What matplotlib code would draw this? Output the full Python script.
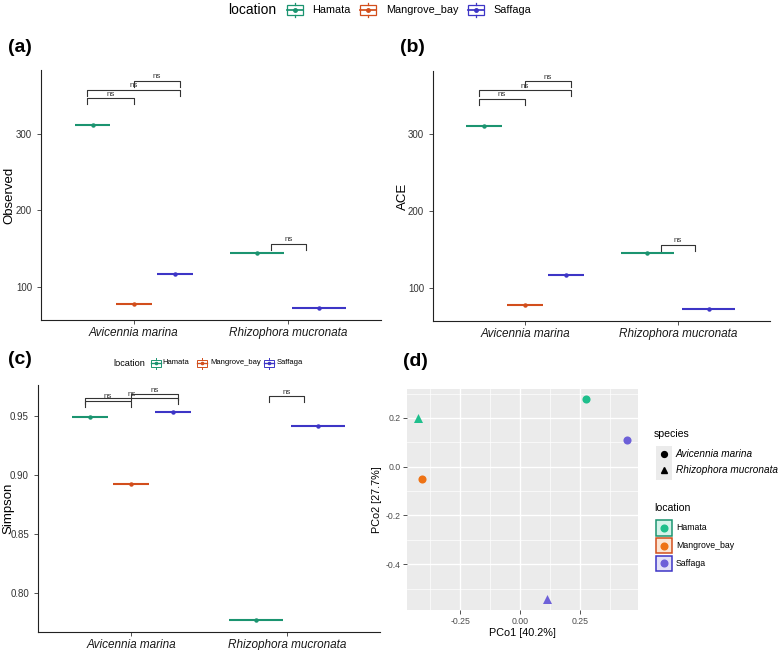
import numpy as np
import matplotlib
matplotlib.use("Agg")
import matplotlib.pyplot as plt
from matplotlib.patches import Rectangle
from matplotlib.ticker import FormatStrFormatter

plt.rcParams['font.family'] = ['Liberation Sans', 'DejaVu Sans']

# ---------------- data ----------------
species = ["Avicennia marina", "Rhizophora mucronata"]
locations = ["Hamata", "Mangrove_bay", "Saffaga"]

# alpha diversity per (species, location); nan = no sample
observed_am = [311, 78, 117]
observed_rm = [145, np.nan, 72]
ace_am = [311, 77.5, 116.5]
ace_rm = [144.5, np.nan, 71.5]
simpson_am = [0.9494, 0.8924, 0.9531]
simpson_rm = [0.7774, np.nan, 0.9418]

# significance brackets: (species index, location a, location b, label)
bracket_pairs = [(0, 0, 1, "ns"), (0, 0, 2, "ns"), (0, 1, 2, "ns"), (1, 0, 2, "ns")]
observed_bracket_y = [346, 357.5, 369, 156.5]
ace_bracket_y = [346, 357, 368.5, 156]
simpson_bracket_y = [0.9627, 0.9650, 0.9684, 0.9663]

# PCoA
pco_location = ["Hamata", "Mangrove_bay", "Saffaga", "Hamata", "Saffaga"]
pco_species = ["Avicennia marina", "Avicennia marina", "Avicennia marina",
               "Rhizophora mucronata", "Rhizophora mucronata"]
pco1 = [0.275, -0.409, 0.449, -0.426, 0.111]
pco2 = [0.279, -0.051, 0.110, 0.202, -0.544]

# ---------------- style ----------------
cb_colors = {"Hamata": "#1B9470", "Mangrove_bay": "#D24E1C", "Saffaga": "#3D35C6"}
pt_colors = {"Hamata": "#1FBF8C", "Mangrove_bay": "#EE7214", "Saffaga": "#6D60D8"}
markers = {"Avicennia marina": "o", "Rhizophora mucronata": "^"}

W, H = 779, 650
fig = plt.figure(figsize=(W / 100, H / 100), dpi=100)


def ax_rect(l, t, r, b):
    return [l / W, 1 - b / H, (r - l) / W, (b - t) / H]


def place_ylabel(ax, rect_px, xpx):
    l, t, r, b = rect_px
    ax.yaxis.set_label_coords((xpx - l) / (r - l), 0.5)


def crossbar_panel(ax, am, rm, bracket_y, depth, ylim, yticks, fmt, ylabel):
    per_species = [am, rm]
    for si, vals in enumerate(per_species):
        present = [li for li, v in enumerate(vals) if not np.isnan(v)]
        n = len(present)
        slot = 0.8 / n
        bw = slot * 0.87
        for k, li in enumerate(present):
            x = si + 1 + (k - (n - 1) / 2) * slot
            c = cb_colors[locations[li]]
            ax.plot([x - bw / 2, x + bw / 2], [vals[li], vals[li]], color=c, lw=1.5,
                    solid_capstyle='butt', zorder=3)
            ax.plot([x], [vals[li]], 'o', color=c, ms=2.2, zorder=4)
    # brackets
    for (si, a, b, lab), yb in zip(bracket_pairs, bracket_y):
        n = sum(1 for v in per_species[si] if not np.isnan(v))
        off = 0.3 if n == 3 else 0.225
        order = [li for li, v in enumerate(per_species[si]) if not np.isnan(v)]
        xa = si + 1 + (order.index(a) - (n - 1) / 2) * off
        xb = si + 1 + (order.index(b) - (n - 1) / 2) * off
        ax.plot([xa, xa, xb, xb], [yb - depth, yb, yb, yb - depth], color="#333333",
                lw=0.8, zorder=2)
        ax.annotate(lab, ((xa + xb) / 2, yb), xytext=(0, 0.3), textcoords='offset points',
                    ha='center', va='bottom', fontsize=5.8, color="#333333")
    ax.set_xlim(0.4, 2.6)
    ax.set_ylim(*ylim)
    ax.set_xticks([1, 2])
    ax.set_xticklabels(species, fontstyle='italic', fontsize=8.5, color="#1a1a1a")
    ax.set_yticks(yticks)
    ax.yaxis.set_major_formatter(FormatStrFormatter(fmt))
    ax.tick_params(axis='y', labelsize=7, colors="#333333", labelcolor="#333333", length=3, width=0.6)
    ax.tick_params(axis='x', length=3, width=0.6, colors="#333333", labelcolor="#1a1a1a", pad=2)
    for s in ["top", "right"]:
        ax.spines[s].set_visible(False)
    for s in ["left", "bottom"]:
        ax.spines[s].set_linewidth(0.8)
        ax.spines[s].set_color("#222222")
    ax.set_ylabel(ylabel, fontsize=9.5, va='center')


rect_a = (41, 70, 381, 320)
ax_a = fig.add_axes(ax_rect(*rect_a))
crossbar_panel(ax_a, observed_am, observed_rm, observed_bracket_y, 7.8,
               (57, 383), [100, 200, 300], '%d', "Observed")
place_ylabel(ax_a, rect_a, 9)

rect_b = (433, 71, 770, 321)
ax_b = fig.add_axes(ax_rect(*rect_b))
crossbar_panel(ax_b, ace_am, ace_rm, ace_bracket_y, 7.8,
               (56.5, 382), [100, 200, 300], '%d', "ACE")
place_ylabel(ax_b, rect_b, 403)

rect_c = (38, 385, 380, 632)
ax_c = fig.add_axes(ax_rect(*rect_c))
crossbar_panel(ax_c, simpson_am, simpson_rm, simpson_bracket_y, 0.005,
               (0.7675, 0.976), [0.80, 0.85, 0.90, 0.95], '%.2f', "Simpson")
place_ylabel(ax_c, rect_c, 8)

# ---------------- PCoA panel ----------------
rect_d = (407, 389, 638, 610)
ax_d = fig.add_axes(ax_rect(*rect_d))
ax_d.set_facecolor("#EBEBEB")
for s in ax_d.spines.values():
    s.set_visible(False)
for x, y, loc, sp in zip(pco1, pco2, pco_location, pco_species):
    ax_d.scatter([x], [y], color=pt_colors[loc], marker=markers[sp],
                 s=34 if sp == "Avicennia marina" else 42, zorder=3, linewidths=0)
ax_d.set_xlim(-0.472, 0.493)
ax_d.set_ylim(-0.588, 0.319)
ax_d.set_xticks([-0.25, 0.0, 0.25])
ax_d.set_xticklabels(["-0.25", "0.00", "0.25"])
ax_d.set_yticks([-0.4, -0.2, 0.0, 0.2])
ax_d.set_yticklabels(["-0.4", "-0.2", "0.0", "0.2"])
ax_d.set_xticks([-0.375, -0.125, 0.125, 0.375], minor=True)
ax_d.set_yticks([-0.5, -0.3, -0.1, 0.1, 0.3], minor=True)
ax_d.grid(which='major', color='white', lw=1.0)
ax_d.grid(which='minor', color='white', lw=0.5)
ax_d.set_axisbelow(True)
ax_d.tick_params(which='major', labelsize=6.3, colors="#333333", labelcolor="#4D4D4D",
                 length=2.7, width=0.6, pad=2)
ax_d.tick_params(which='minor', length=0)
ax_d.set_xlabel("PCo1 [40.2%]", fontsize=7.8, labelpad=2)
ax_d.set_ylabel("PCo2 [27.7%]", fontsize=7.8, va='center')
place_ylabel(ax_d, rect_d, 377)

# ---------------- overlay for labels and legends (pixel coords) ----------------
ov = fig.add_axes([0, 0, 1, 1], facecolor='none')
ov.set_xlim(0, W)
ov.set_ylim(H, 0)
ov.axis('off')

for lab, x, y in [("(a)", 8, 47), ("(b)", 400, 47), ("(c)", 8, 360), ("(d)", 403, 362)]:
    ov.text(x, y, lab, fontsize=14, fontweight='bold', ha='left', va='center')


def crossbar_key(cx, cy, w, h, color, lw=0.9, ms=2.5):
    ov.add_patch(Rectangle((cx - w / 2, cy - h / 2), w, h, fill=False, ec=color, lw=lw))
    ov.plot([cx - w / 2, cx + w / 2], [cy, cy], color=color, lw=lw * 1.4)
    ov.plot([cx, cx], [cy - h / 2 - 2, cy - h / 2], color=color, lw=lw)
    ov.plot([cx, cx], [cy + h / 2, cy + h / 2 + 2], color=color, lw=lw)
    ov.plot([cx], [cy], 'o', color=color, ms=ms)


# top legend
ov.text(228, 10, "location", fontsize=10, ha='left', va='center')
for loc, kx, tx in zip(locations, [295, 368.5, 476], [312, 386, 493]):
    crossbar_key(kx, 10, 16, 10, cb_colors[loc])
    ov.text(tx, 10, loc, fontsize=7.8, ha='left', va='center')

# panel (c) legend
ov.text(113, 363, "location", fontsize=6.6, ha='left', va='center')
for loc, kx, tx in zip(locations, [156, 202.3, 269.3], [162.5, 210, 276.7]):
    crossbar_key(kx, 363, 10, 7, cb_colors[loc], lw=0.7, ms=1.6)
    ov.text(tx, 363, loc, fontsize=5.5, ha='left', va='center')

# panel (d) legends
ov.text(654, 434, "species", fontsize=7.6, ha='left', va='center')
ov.add_patch(Rectangle((655.7, 445.5), 16, 34, color="#EBEBEB", lw=0))
for sp, y in zip(species, [454.3, 470]):
    ov.plot([663.7], [y], marker=markers[sp], color='black', ms=4.2 if sp == species[0] else 5, ls='none')
    ov.text(676, y, sp, fontsize=7.2, fontstyle='italic', ha='left', va='center')

ov.text(654, 508, "location", fontsize=7.6, ha='left', va='center')
for loc, y in zip(locations, [527.7, 545.5, 563.3]):
    c = pt_colors[loc]
    ov.add_patch(Rectangle((656.2, y - 7.7), 15.5, 15.5, facecolor=c, alpha=0.18, lw=0))
    ov.add_patch(Rectangle((656.2, y - 7.7), 15.5, 15.5, fill=False, ec=cb_colors[loc], lw=1.1))
    ov.plot([664], [y], 'o', color=c, ms=4.8)
    ov.text(676, y, loc, fontsize=6.3, ha='left', va='center')

fig.savefig("out.png", dpi=100)
